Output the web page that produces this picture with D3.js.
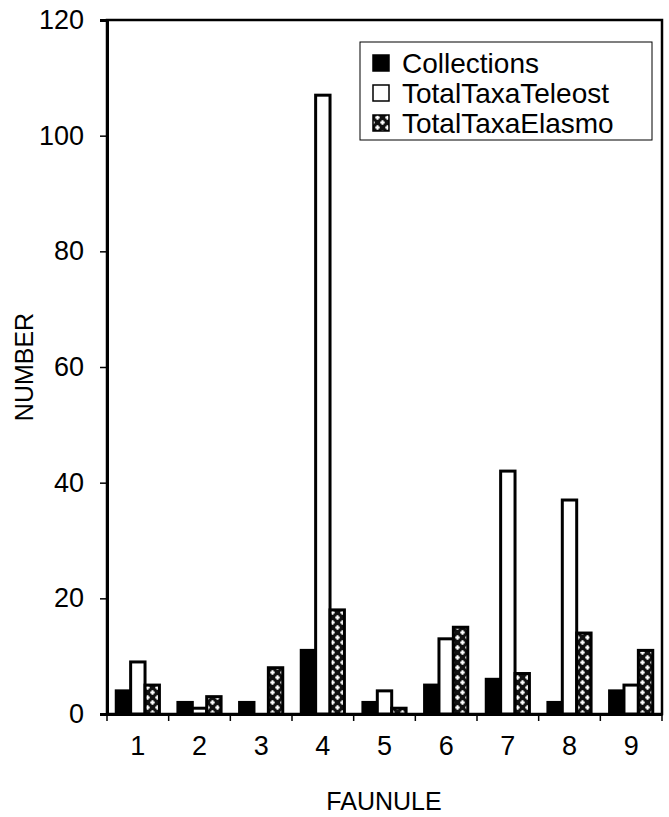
<!DOCTYPE html>
<html>
<head>
<meta charset="utf-8">
<script src="https://cdn.jsdelivr.net/npm/d3@7"></script>
<style>
  html, body { margin: 0; padding: 0; background: #fff; }
  svg { display: block; }
  text { font-family: "Liberation Sans", Arial, sans-serif; fill: #000; }
</style>
</head>
<body>
<svg id="chart" width="669" height="817"></svg>
<script>
const categories = ["1", "2", "3", "4", "5", "6", "7", "8", "9"];
const seriesNames = ["Collections", "TotalTaxaTeleost", "TotalTaxaElasmo"];
const collections = [4, 2, 2, 11, 2, 5, 6, 2, 4];
const teleost = [9, 1, 0, 107, 4, 13, 42, 37, 5];
const elasmo = [5, 3, 8, 18, 1, 15, 7, 14, 11];
const yTicks = [0, 20, 40, 60, 80, 100, 120];

const seriesValues = [collections, teleost, elasmo];
const fills = ["#000", "#fff", "url(#check)"];

const svg = d3.select("#chart");
const mLeft = 107, mRight = 662, mTop = 20, mBottom = 714;

const defs = svg.append("defs");
const pat = defs.append("pattern").attr("id", "check")
  .attr("patternUnits", "userSpaceOnUse").attr("width", 10).attr("height", 10);
pat.append("rect").attr("width", 10).attr("height", 10).attr("fill", "#111");
pat.append("path")
  .attr("d", "M2.5,0.3V4.7M0.3,2.5H4.7M7.5,5.3V9.7M5.3,7.5H9.7")
  .attr("stroke", "#fff").attr("stroke-width", 2);

const x = d3.scaleBand().domain(categories).range([mLeft, mRight]).paddingInner(0).paddingOuter(0);
const bw = x.bandwidth();
const xs = d3.scaleBand().domain(seriesNames).range([bw * 0.15, bw * 0.85]);
const y = d3.scaleLinear().domain([0, 120]).range([mBottom, mTop]);

// plot border
svg.append("rect").attr("x", mLeft).attr("y", mTop).attr("width", mRight - mLeft).attr("height", mBottom - mTop)
  .attr("fill", "none").attr("stroke", "#000").attr("stroke-width", 2.5);

// bars
seriesNames.forEach((s, si) => {
  svg.append("g").selectAll("rect").data(categories).join("rect")
    .attr("x", c => x(c) + xs(s))
    .attr("y", (c, i) => y(seriesValues[si][i]))
    .attr("width", xs.bandwidth())
    .attr("height", (c, i) => mBottom - y(seriesValues[si][i]))
    .attr("fill", fills[si])
    .attr("stroke", "#000").attr("stroke-width", 3);
});

// y axis
const yAxis = svg.append("g").attr("transform", `translate(${mLeft},0)`)
  .call(d3.axisLeft(y).tickValues(yTicks).tickSize(7).tickPadding(16));
yAxis.select(".domain").attr("stroke-width", 3);
yAxis.selectAll("line").attr("stroke-width", 1.5);
yAxis.selectAll("text").style("font-size", "27px").style("font-family", "Liberation Sans, Arial, sans-serif");

// x axis
const xAxis = svg.append("g").attr("transform", `translate(0,${mBottom})`)
  .call(d3.axisBottom(x).tickSize(0).tickPadding(22));
xAxis.select(".domain").attr("stroke-width", 3);
xAxis.selectAll("text").style("font-size", "27px").style("font-family", "Liberation Sans, Arial, sans-serif");
// boundary ticks
const bounds = categories.map(c => x(c)).concat([x.range()[1]]);
svg.append("g").selectAll("line").data(bounds).join("line")
  .attr("x1", d => d).attr("x2", d => d)
  .attr("y1", mBottom).attr("y2", mBottom + 7)
  .attr("stroke", "#000").attr("stroke-width", 1.5);

// axis titles
svg.append("text").attr("transform", `translate(33,367) rotate(-90)`)
  .attr("text-anchor", "middle").style("font-size", "25px").text("NUMBER");
svg.append("text").attr("x", 384).attr("y", 810)
  .attr("text-anchor", "middle").style("font-size", "25px").text("FAUNULE");

// legend
const lg = svg.append("g");
lg.append("rect").attr("x", 360).attr("y", 42).attr("width", 292).attr("height", 98)
  .attr("fill", "#fff").attr("stroke", "#000").attr("stroke-width", 1);
seriesNames.forEach((s, i) => {
  const cy = 63 + i * 30;
  lg.append("rect").attr("x", 373).attr("y", cy - 8).attr("width", 16).attr("height", 16)
    .attr("fill", fills[i]).attr("stroke", "#000").attr("stroke-width", 1.5);
  lg.append("text").attr("x", 402).attr("y", cy + 10).style("font-size", "28px")
    .attr("textLength", s === "Collections" ? null : null).text(s);
});
</script>
</body>
</html>
